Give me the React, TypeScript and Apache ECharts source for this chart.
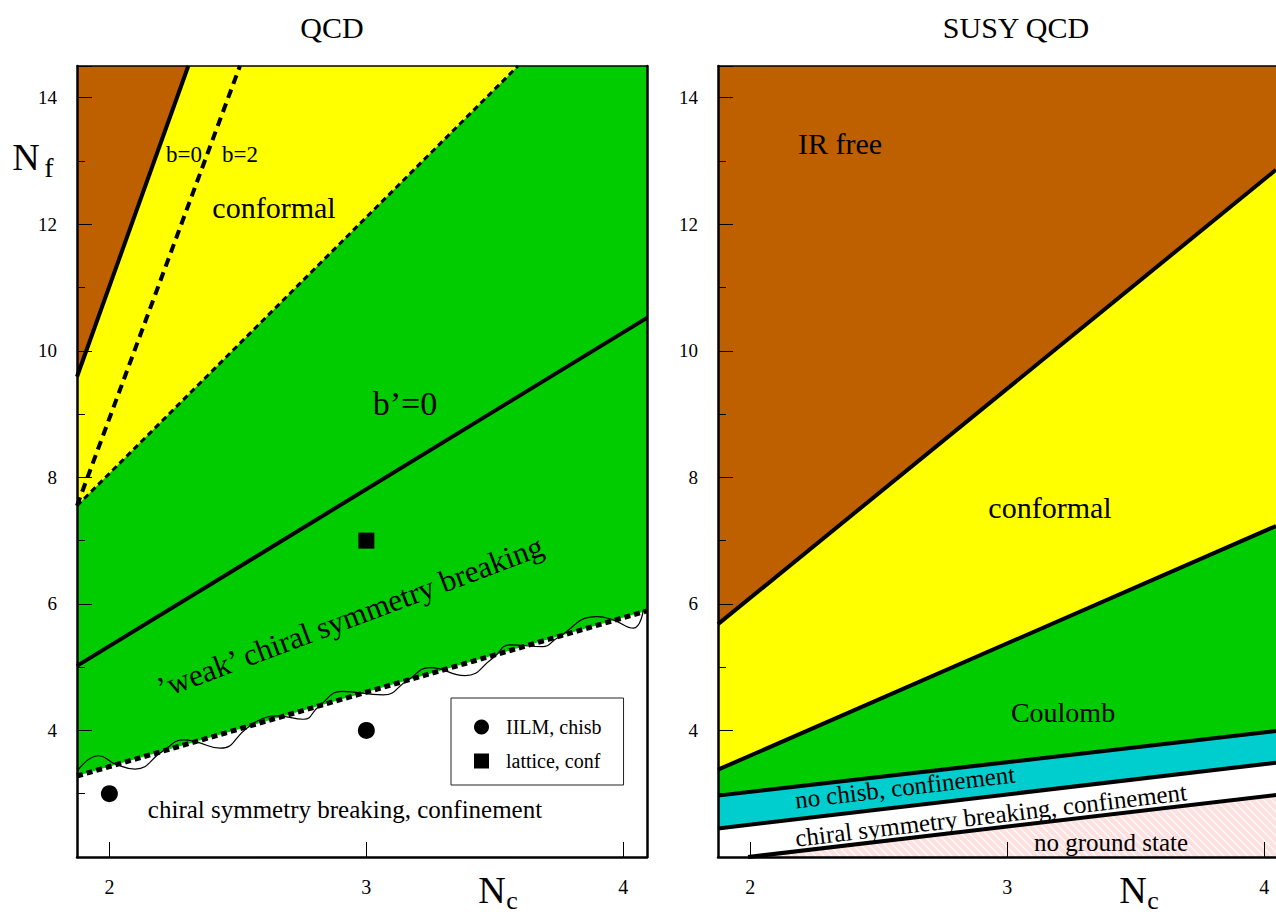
import React, { useEffect, useRef } from "react";
import * as echarts from "echarts";

// ---------- axes ----------
const ncTicks = [2, 3, 4];
const nfLabels = [4, 6, 8, 10, 12, 14];
const nfRange = [2, 14.5];
const qcdNcRange = [1.874, 4.092];
const susyNcRange = [1.875, 4.046];

// ---------- QCD panel ----------
const qcdB0Line = [[1.874, 9.59], [2.307, 14.5]];
const qcdB2Line = [[1.874, 7.55], [2.508, 14.5]];
const qcdConfLowerLine = [[1.874, 7.55], [3.59, 14.5]];
const qcdBPrimeLine = [[1.874, 5.02], [4.092, 10.52]];
const qcdChiralLine = [[1.874, 3.28], [4.092, 5.89]];
const qcdWave = [
  [1.874, 3.35], [1.958, 3.6], [2.023, 3.47], [2.101, 3.39], [2.205, 3.665],
  [2.289, 3.85], [2.334, 3.823], [2.432, 3.719], [2.535, 4.035], [2.6, 4.193],
  [2.652, 4.229], [2.756, 4.177], [2.814, 4.376], [2.905, 4.617], [3.065, 4.561],
  [3.162, 4.798], [3.248, 4.993], [3.384, 4.866], [3.493, 5.146], [3.559, 5.352],
  [3.687, 5.325], [3.741, 5.458], [3.896, 5.799], [3.96, 5.747], [4.039, 5.616],
  [4.078, 5.905],
];
const iilmPoints = [[2, 3], [3, 4]];
const latticePoints = [[3, 7]];

const qcdIRFreeRegion = [[1.874, 9.59], [1.874, 14.5], [2.307, 14.5]];
const qcdConformalRegion = [[1.874, 7.55], [1.874, 9.59], [2.307, 14.5], [3.59, 14.5]];
const qcdWeakRegion = [[1.874, 3.28], [1.874, 7.55], [3.59, 14.5], [4.092, 14.5], [4.092, 5.89]];

// ---------- SUSY QCD panel ----------
const susyIRLine = [[1.875, 5.68], [4.046, 12.86]];
const susyConfLine = [[1.875, 3.38], [4.046, 7.23]];
const susyCoulombLine = [[1.875, 2.97], [4.046, 3.99]];
const susyChisbLine = [[1.875, 2.45], [4.046, 3.49]];
const susyNoGroundLine = [[1.992, 2.0], [4.046, 2.98]];

const susyIRFreeRegion = [[1.875, 5.68], [1.875, 14.5], [4.046, 14.5], [4.046, 12.86]];
const susyConformalRegion = [[1.875, 3.38], [1.875, 5.68], [4.046, 12.86], [4.046, 7.23]];
const susyCoulombRegion = [[1.875, 2.97], [1.875, 3.38], [4.046, 7.23], [4.046, 3.99]];
const susyNoChisbRegion = [[1.875, 2.45], [1.875, 2.97], [4.046, 3.99], [4.046, 3.49]];
const susyNoGroundRegion = [[1.992, 2.0], [4.046, 2.98], [4.046, 2.0]];

const BROWN = "#bf6000";
const YELLOW = "#ffff00";
const GREEN = "#00cc00";
const CYAN = "#00cdcd";
const PINK = "#fde0e0";
const FONT = "Liberation Serif";

function polygonSeries(points: number[][], fill: any, gi: number) {
  return {
    type: "custom",
    xAxisIndex: gi === 0 ? 0 : 2,
    yAxisIndex: gi === 0 ? 0 : 2,
    data: [points[0]],
    z: 1,
    silent: true,
    renderItem: (_p: any, api: any) => ({
      type: "polygon",
      shape: { points: points.map((p) => api.coord(p)) },
      style: { fill, stroke: null },
    }),
  };
}

function lineSeries(points: number[][], width: number, type: any, gi: number, smooth = false, z = 3) {
  return {
    type: "line",
    xAxisIndex: gi === 0 ? 0 : 2,
    yAxisIndex: gi === 0 ? 0 : 2,
    data: points,
    symbol: "none",
    smooth,
    silent: true,
    z,
    lineStyle: { color: "#000", width, type, cap: "butt" },
  };
}

function txt(text: string, x: number, y: number, size: number, rotDeg = 0) {
  return {
    type: "text",
    x,
    y,
    rotation: (rotDeg * Math.PI) / 180,
    z: 100,
    silent: true,
    style: {
      text,
      fill: "#000",
      fontFamily: FONT,
      fontSize: size,
      align: "center",
      verticalAlign: "middle",
    },
  };
}

function bottomAxis(gi: number, range: number[]) {
  return {
    gridIndex: gi,
    type: "value",
    position: "bottom",
    min: range[0],
    max: range[1],
    z: 10,
    axisLine: { onZero: false, lineStyle: { color: "#000", width: 2.5 } },
    axisTick: { customValues: ncTicks, inside: true, length: 15, lineStyle: { color: "#000", width: 1 } },
    axisLabel: {
      customValues: ncTicks,
      margin: 20,
      color: "#000",
      fontFamily: FONT,
      fontSize: 20,
    },
    splitLine: { show: false },
  };
}
function topAxis(gi: number, range: number[]) {
  return {
    gridIndex: gi,
    type: "value",
    position: "top",
    min: range[0],
    max: range[1],
    z: 10,
    axisLine: { onZero: false, lineStyle: { color: "#000", width: 1.5 } },
    axisTick: { show: false },
    axisLabel: { show: false },
    splitLine: { show: false },
  };
}
function leftAxis(gi: number) {
  return {
    gridIndex: gi,
    type: "value",
    position: "left",
    min: nfRange[0],
    max: nfRange[1],
    interval: 2,
    z: 10,
    axisLine: { onZero: false, lineStyle: { color: "#000", width: 2.5 } },
    axisTick: { inside: true, length: 15, lineStyle: { color: "#000", width: 1 } },
    minorTick: { show: true, splitNumber: 2, length: 8, lineStyle: { color: "#000", width: 1 } },
    axisLabel: {
      margin: 20,
      color: "#000",
      fontFamily: FONT,
      fontSize: 19,
      formatter: (v: number) => (nfLabels.indexOf(v) >= 0 ? String(v) : ""),
    },
    splitLine: { show: false },
    minorSplitLine: { show: false },
  };
}

export default function App() {
  const ref = useRef<HTMLDivElement>(null);
  useEffect(() => {
    if (!ref.current) return;
    const chart = echarts.init(ref.current, null, { renderer: "svg" });

    const c = document.createElement("canvas");
    c.width = 8;
    c.height = 8;
    const g = c.getContext("2d");
    if (g) {
      g.fillStyle = PINK;
      g.fillRect(0, 0, 8, 8);
      g.strokeStyle = "#ffffff";
      g.lineWidth = 1.2;
      g.beginPath();
      g.moveTo(0, 0);
      g.lineTo(8, 8);
      g.moveTo(-2, 6);
      g.lineTo(2, 10);
      g.moveTo(6, -2);
      g.lineTo(10, 2);
      g.stroke();
    }
    const hatch = { image: c.toDataURL(), repeat: "repeat", imageWidth: 8, imageHeight: 8 };

    const option: any = {
      animation: false,
      backgroundColor: "#fff",
      textStyle: { fontFamily: FONT },
      grid: [
        { left: 77, top: 66, width: 570, height: 791 },
        { left: 718, top: 66, width: 558, height: 791 },
      ],
      xAxis: [
        bottomAxis(0, qcdNcRange),
        topAxis(0, qcdNcRange),
        bottomAxis(1, susyNcRange),
        topAxis(1, susyNcRange),
      ],
      yAxis: [
        leftAxis(0),
        {
          gridIndex: 0,
          type: "value",
          position: "right",
          min: nfRange[0],
          max: nfRange[1],
          z: 10,
          axisLine: { onZero: false, lineStyle: { color: "#000", width: 2.5 } },
          axisTick: { show: false },
          axisLabel: { show: false },
          splitLine: { show: false },
        },
        leftAxis(1),
      ],
      legend: {
        left: 451,
        top: 698,
        orient: "vertical",
        data: [
          { name: "IILM, chisb", icon: "circle" },
          { name: "lattice, conf", icon: "rect" },
        ],
        itemWidth: 15,
        itemHeight: 15,
        itemGap: 14,
        padding: [19, 22, 14, 23],
        borderColor: "#222",
        borderWidth: 1,
        borderRadius: 0,
        backgroundColor: "#fff",
        selectedMode: false,
        textStyle: { fontFamily: FONT, fontSize: 20, color: "#000", padding: [0, 0, 0, 12] },
      },
      series: [
        polygonSeries(qcdIRFreeRegion, BROWN, 0),
        polygonSeries(qcdConformalRegion, YELLOW, 0),
        polygonSeries(qcdWeakRegion, GREEN, 0),
        lineSeries(qcdB0Line, 4, "solid", 0),
        lineSeries(qcdB2Line, 4, [9, 6], 0),
        lineSeries(qcdConfLowerLine, 3, [6, 4], 0),
        lineSeries(qcdBPrimeLine, 4, "solid", 0),
        lineSeries(qcdChiralLine, 5, [6, 4], 0),
        lineSeries(qcdWave, 1.2, "solid", 0, true, 4),
        {
          type: "scatter",
          name: "IILM, chisb",
          xAxisIndex: 0,
          yAxisIndex: 0,
          data: iilmPoints,
          symbol: "circle",
          symbolSize: 17,
          itemStyle: { color: "#000", opacity: 1 },
          z: 5,
        },
        {
          type: "scatter",
          name: "lattice, conf",
          xAxisIndex: 0,
          yAxisIndex: 0,
          data: latticePoints,
          symbol: "rect",
          symbolSize: 16,
          itemStyle: { color: "#000", opacity: 1 },
          z: 5,
        },
        polygonSeries(susyIRFreeRegion, BROWN, 1),
        polygonSeries(susyConformalRegion, YELLOW, 1),
        polygonSeries(susyCoulombRegion, GREEN, 1),
        polygonSeries(susyNoChisbRegion, CYAN, 1),
        polygonSeries(susyNoGroundRegion, hatch, 1),
        lineSeries(susyIRLine, 4, "solid", 1),
        lineSeries(susyConfLine, 4, "solid", 1),
        lineSeries(susyCoulombLine, 4, "solid", 1),
        lineSeries(susyChisbLine, 4, "solid", 1),
        lineSeries(susyNoGroundLine, 4, "solid", 1),
      ],
      graphic: [
        txt("QCD", 332, 27, 30),
        txt("SUSY QCD", 1016, 27, 30),
        txt("N", 26, 157, 38),
        txt("f", 49, 167, 28),
        txt("N", 492, 890, 38),
        txt("c", 512, 900, 26),
        txt("N", 1133, 890, 38),
        txt("c", 1153, 900, 26),
        txt("b=0", 184, 154, 23),
        txt("b=2", 240, 154, 23),
        txt("conformal", 274, 207, 30),
        txt("b\u2019=0", 405, 403, 34),
        txt("\u2019weak\u2019 chiral symmetry breaking", 350, 617, 31, 20.6),
        txt("chiral symmetry breaking, confinement", 345, 809, 25),
        txt("IR free", 840, 143, 30),
        txt("conformal", 1050, 507, 30),
        txt("Coulomb", 1063, 712, 28),
        txt("no chisb, confinement", 905, 787, 25, 6.8),
        txt("chiral symmetry breaking, confinement", 991, 815, 25, 6.8),
        txt("no ground state", 1111, 842, 25),
      ],
    };
    chart.setOption(option);
    return () => chart.dispose();
  }, []);
  return (
    <div
      ref={ref}
      style={{ position: "absolute", left: 0, top: 0, width: 1276, height: 914, background: "#fff" }}
    />
  );
}
